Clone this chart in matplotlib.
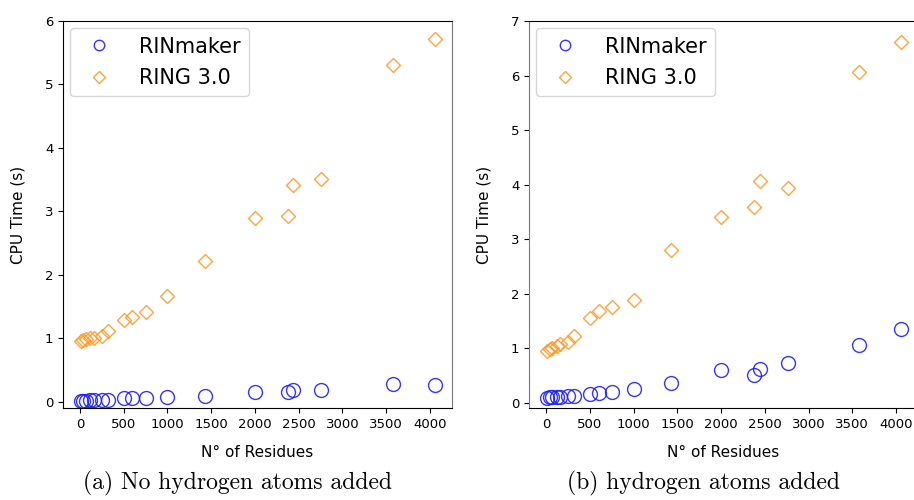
import matplotlib
matplotlib.use("Agg")
import matplotlib.pyplot as plt

# number of residues of the test proteins
residues = [10, 40, 70, 120, 160, 250, 320, 500, 600, 750, 1000, 1430,
            2000, 2380, 2440, 2760, 3580, 4060]

# (a) no hydrogen atoms added
rinmaker_a = [0.01, 0.01, 0.01, 0.02, 0.02, 0.02, 0.03, 0.05, 0.06, 0.06,
              0.07, 0.09, 0.16, 0.15, 0.19, 0.19, 0.28, 0.27]
ring_a = [0.95, 0.97, 0.98, 1.00, 1.01, 1.04, 1.12, 1.29, 1.34, 1.41,
          1.66, 2.21, 2.90, 2.92, 3.42, 3.51, 5.31, 5.72]

# (b) hydrogen atoms added
rinmaker_b = [0.09, 0.10, 0.10, 0.11, 0.11, 0.12, 0.12, 0.15, 0.17, 0.19,
              0.24, 0.35, 0.60, 0.50, 0.62, 0.72, 1.05, 1.35]
ring_b = [0.95, 0.98, 1.00, 1.03, 1.07, 1.12, 1.22, 1.55, 1.68, 1.76,
          1.88, 2.80, 3.41, 3.59, 4.06, 3.93, 6.06, 6.62]

captions = ["(a) No hydrogen atoms added", "(b) hydrogen atoms added"]
ytops = [6, 7]

blue = "#1f1fff"
orange = "#ff9a2a"

fig = plt.figure(figsize=(9.14, 5.0), dpi=100)
ax_a = fig.add_axes([0.0689, 0.184, 0.4256, 0.774])
ax_b = fig.add_axes([0.5788, 0.184, 0.4256, 0.774])

panels = [(ax_a, rinmaker_a, ring_a), (ax_b, rinmaker_b, ring_b)]
for i, (ax, rin, ring) in enumerate(panels):
    ax.plot(residues, rin, "o", ms=10, mfc="none", mec=blue, mew=1.0,
            alpha=0.9, label="RINmaker")
    ax.plot(residues, ring, "D", ms=7.5, mfc="none", mec=orange, mew=1.0,
            alpha=0.9, label="RING 3.0")
    ax.set_xlim(-194, 4251)
    ax.set_ylim(-0.1, ytops[i])
    ax.set_xticks(range(0, 4001, 500))
    ax.set_yticks(range(0, ytops[i] + 1))
    ax.tick_params(labelsize=9.5)
    ax.set_xlabel("N° of Residues", fontsize=11, labelpad=10)
    ax.set_ylabel("CPU Time (s)", fontsize=11, labelpad=14)
    ax.legend(loc="upper left", fontsize=15, markerscale=0.75,
              handletextpad=0.9, borderpad=0.4, labelspacing=0.55,
              borderaxespad=0.35, framealpha=0.8)

ax_a.spines["right"].set_color("#777777")
ax_b.spines["left"].set_color("#777777")

fig.text(0.260, 0.008, captions[0], fontfamily="cmr10", fontsize=17,
         ha="center", va="bottom")
fig.text(0.770, 0.008, captions[1], fontfamily="cmr10", fontsize=17,
         ha="center", va="bottom")

fig.savefig("out.png", dpi=100)
